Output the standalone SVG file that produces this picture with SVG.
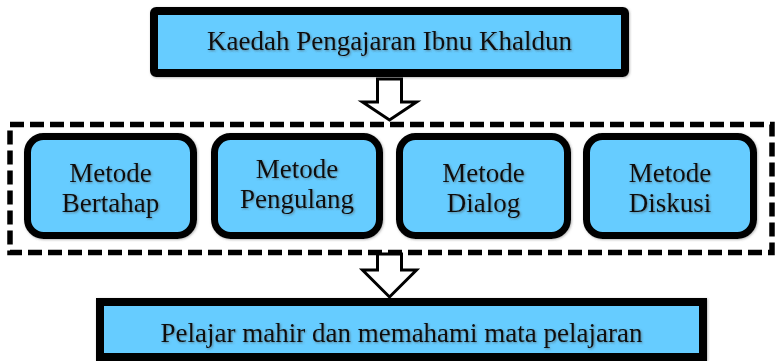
<svg xmlns="http://www.w3.org/2000/svg" width="777" height="361" viewBox="0 0 777 361">
  <defs>
    <filter id="ts" x="-5%" y="-20%" width="110%" height="140%">
      <feDropShadow dx="1" dy="1" stdDeviation="0.8" flood-color="#4a4a4a" flood-opacity="0.55"/>
    </filter>
    <filter id="bs" x="-5%" y="-10%" width="110%" height="120%">
      <feDropShadow dx="0.8" dy="0.8" stdDeviation="0.8" flood-color="#666" flood-opacity="0.5"/>
    </filter>
  </defs>
  <style>
    .main { fill: #66CCFF; stroke: #000; stroke-width: 8; }
    .method { fill: #66CCFF; stroke: #000; stroke-width: 7; }
    .group { fill: none; stroke: #000; stroke-width: 5.5; stroke-dasharray: 14 6; }
    .arrow { fill: #fff; stroke: #000; stroke-width: 3; stroke-linejoin: miter; }
    text { font-family: "Liberation Serif", "Times New Roman", serif; font-size: 27px; fill: #111; text-anchor: middle; }
  </style>
  <rect width="777" height="361" fill="#fff"/>

  <g id="group-methods">
    <rect class="group" x="10" y="124.5" width="762" height="128"/>
  </g>

  <g id="node-kaedah">
    <rect class="main" x="154" y="11" width="471" height="62" rx="2" filter="url(#bs)"/>
    <text x="389.5" y="50" filter="url(#ts)">Kaedah Pengajaran Ibnu Khaldun</text>
  </g>

  <g id="node-bertahap">
    <rect class="method" x="27.5" y="136.5" width="166" height="99" rx="16" filter="url(#bs)"/>
    <text x="110.5" y="182" filter="url(#ts)">Metode</text>
    <text x="110.5" y="212" filter="url(#ts)">Bertahap</text>
  </g>

  <g id="node-pengulang">
    <rect class="method" x="214.5" y="136.5" width="165" height="99" rx="16" filter="url(#bs)"/>
    <text x="297" y="178" filter="url(#ts)">Metode</text>
    <text x="297" y="208" filter="url(#ts)">Pengulang</text>
  </g>

  <g id="node-dialog">
    <rect class="method" x="399.5" y="136.5" width="168" height="99" rx="16" filter="url(#bs)"/>
    <text x="483.5" y="182" filter="url(#ts)">Metode</text>
    <text x="483.5" y="212" filter="url(#ts)">Dialog</text>
  </g>

  <g id="node-diskusi">
    <rect class="method" x="586.5" y="136.5" width="167" height="99" rx="16" filter="url(#bs)"/>
    <text x="670" y="182" filter="url(#ts)">Metode</text>
    <text x="670" y="212" filter="url(#ts)">Diskusi</text>
  </g>

  <g id="node-pelajar">
    <rect class="main" x="100" y="302" width="603" height="55" filter="url(#bs)"/>
    <text x="401.5" y="342" filter="url(#ts)">Pelajar mahir dan memahami mata pelajaran</text>
  </g>

  <g id="connectors">
    <path class="arrow" d="M377.5,79 L401.5,79 L401.5,102 L416.5,102 L389.5,120 L362.5,102 L377.5,102 Z"/>
    <path class="arrow" d="M377.5,254 L401.5,254 L401.5,270 L416.5,270 L389.5,297 L362.5,270 L377.5,270 Z"/>
  </g>
</svg>
